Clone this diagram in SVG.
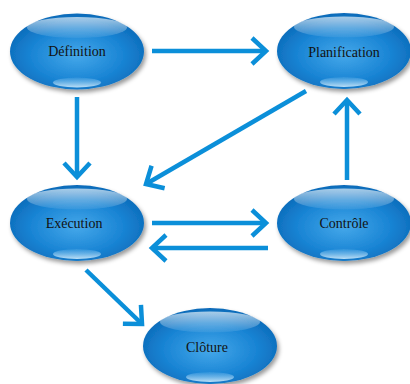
<svg xmlns="http://www.w3.org/2000/svg" xmlns:xlink="http://www.w3.org/1999/xlink" width="410" height="384" viewBox="0 0 410 384">
  <style>
    .lbl { font-size: 14px; fill: #111; text-anchor: middle; dominant-baseline: central; }
    .conn { stroke: #0b8fd9; stroke-width: 4.5; fill: none; marker-end: url(#head); }
  </style>
  <defs>
    <radialGradient id="bodyGrad" cx="50%" cy="55%" r="58%">
      <stop offset="0" stop-color="#45a8ea"/>
      <stop offset="0.6" stop-color="#1984d4"/>
      <stop offset="1" stop-color="#0a67b5"/>
    </radialGradient>
    <linearGradient id="topGlow" x1="0" y1="0" x2="0" y2="1">
      <stop offset="0" stop-color="#ffffff" stop-opacity="0.65"/>
      <stop offset="1" stop-color="#ffffff" stop-opacity="0.06"/>
    </linearGradient>
    <linearGradient id="botGlow" x1="0" y1="0" x2="0" y2="1">
      <stop offset="0" stop-color="#bfe6ff" stop-opacity="0.1"/>
      <stop offset="1" stop-color="#d8f1ff" stop-opacity="0.85"/>
    </linearGradient>
    <filter id="shadow" x="-20%" y="-20%" width="150%" height="150%">
      <feDropShadow dx="2" dy="3" stdDeviation="2" flood-color="#000" flood-opacity="0.4"/>
    </filter>
    <g id="bubble">
      <ellipse cx="0" cy="0" rx="67" ry="38" fill="url(#bodyGrad)" filter="url(#shadow)"/>
      <ellipse cx="0" cy="-24" rx="50" ry="10.5" fill="url(#topGlow)"/>
      <ellipse cx="0" cy="31" rx="24" ry="5" fill="url(#botGlow)"/>
    </g>
    <marker id="head" viewBox="-20 -16 24 32" refX="0" refY="0" markerWidth="24" markerHeight="32" orient="auto" markerUnits="userSpaceOnUse">
      <path d="M -14 -13 L 0 0 L -14 13" fill="none" stroke="#0b8fd9" stroke-width="4.5" stroke-linejoin="miter"/>
    </marker>
  </defs>

  <g id="connectors">
    <line class="conn" x1="152" y1="51" x2="266" y2="51"/>
    <line class="conn" x1="77" y1="97" x2="77" y2="177"/>
    <line class="conn" x1="306" y1="91" x2="146" y2="184"/>
    <line class="conn" x1="152" y1="223" x2="266" y2="223"/>
    <line class="conn" x1="268" y1="248" x2="152" y2="248"/>
    <line class="conn" x1="347" y1="180" x2="347" y2="100"/>
    <line class="conn" x1="86" y1="270" x2="142" y2="324"/>
  </g>

  <g font-family="'Liberation Serif', 'DejaVu Serif', 'Times New Roman', serif">
    <g id="definition" transform="translate(77,51.5)">
      <use xlink:href="#bubble"/>
      <text class="lbl" x="0" y="0">Définition</text>
    </g>
    <g id="planification" transform="translate(344,51)">
      <use xlink:href="#bubble"/>
      <text class="lbl" x="0" y="1">Planification</text>
    </g>
    <g id="execution" transform="translate(77,223)">
      <use xlink:href="#bubble"/>
      <text class="lbl" x="-3" y="0">Exécution</text>
    </g>
    <g id="controle" transform="translate(344,223)">
      <use xlink:href="#bubble"/>
      <text class="lbl" x="0" y="0">Contrôle</text>
    </g>
    <g id="cloture" transform="translate(210,346)">
      <use xlink:href="#bubble"/>
      <text class="lbl" x="-3" y="1">Clôture</text>
    </g>
  </g>
</svg>
